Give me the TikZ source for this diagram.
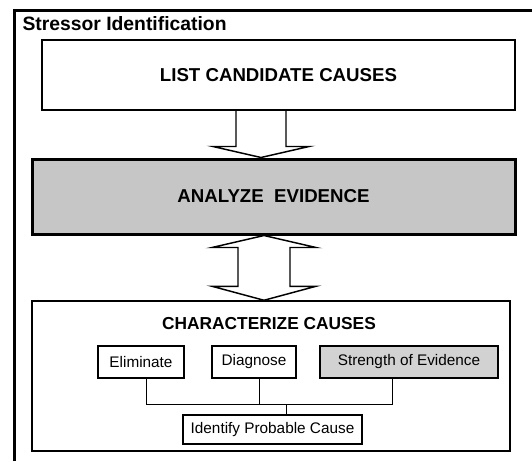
\documentclass[tikz,border=0pt]{standalone}
\usepackage{fontspec}
\setmainfont{Liberation Sans}
\usetikzlibrary{positioning,calc}

\tikzset{every picture/.style={line width=0.75pt}}
\tikzset{
  bigbox/.style={draw, line width=1.1, inner sep=0pt, font=\bfseries\fontsize{14}{16}\selectfont},
  smallbox/.style={draw, line width=1.1, inner sep=0pt, font=\fontsize{11.5}{14}\selectfont},
  blockarr/.style={line width=1.1, line join=miter},
}

\begin{document}
\begin{tikzpicture}[x=0.75pt,y=0.75pt,yscale=-1,xscale=1]
\path [use as bounding box] (0,0) rectangle (532,461);

%Outer frame
\draw [line width=2.25]  (14,461) -- (14,10) -- (532,10) ;

% Text Node
\node [anchor=base west, inner sep=0pt, font=\bfseries\fontsize{14.5}{16}\selectfont] (stressor) at (22,30) {Stressor Identification};

%Boxes
\node [bigbox, minimum width=354.75pt, minimum height=52.5pt] (list) at (278.5,75) {LIST CANDIDATE CAUSES};
\node [bigbox, line width=2.25, fill=gray!45, minimum width=362.25pt, minimum height=56.25pt] (analyze) at (273.5,196.5) {ANALYZE\ \ EVIDENCE};
\node [bigbox, minimum width=358.5pt, minimum height=112.5pt] (charact) at (271,376) {};
% Text Node
\node [anchor=base, inner sep=0pt, font=\bfseries\fontsize{13}{16}\selectfont] (chartitle) at (269,329) {CHARACTERIZE CAUSES};

\node [smallbox, minimum width=64.5pt, minimum height=24pt] (elim) at (141,362) {Eliminate};
\node [smallbox, minimum width=63pt, minimum height=24pt] (diag) at (254,362) {Diagnose};
\node [smallbox, line width=1.8, fill=gray!35, minimum width=133.5pt, minimum height=24pt] (strength) at (409,362) {Strength of Evidence};
\node [smallbox, minimum width=134.25pt, minimum height=21.75pt] (identify) at (272.5,429.5) {Identify Probable Cause};

%Block arrows
\coordinate (ax) at (261,0);
\coordinate (bx) at (264,0);
\draw [blockarr] ($(list.south -| ax)+(-25,0)$) -- ($(analyze.north -| ax)+(-25,-11)$) -- ++(-23,0) -- (analyze.north -| ax) -- ($(analyze.north -| ax)+(48,-11)$) -- ++(-23,0) -- ($(list.south -| ax)+(25,0)$) ;
\draw [blockarr] (analyze.south -| bx) -- ++(52,12) -- ++(-26,0) -- ($(charact.north -| bx)+(26,-14)$) -- ++(26,0) -- (charact.north -| bx) -- ++(-52,-14) -- ++(26,0) -- ($(analyze.south -| bx)+(-26,12)$) -- ++(-26,0) -- cycle ;

%Straight Lines
\coordinate (bus) at (0,404);
\coordinate (e1) at ($(elim.south)+(5,0)$);
\coordinate (d1) at ($(diag.south)+(5,0)$);
\coordinate (s1) at ($(strength.south)+(-17,0)$);
\coordinate (i1) at ($(identify.north)+(13.5,0)$);
\draw  (e1) -- (e1 |- bus) -- (s1 |- bus) -- (s1) ;
\draw  (d1) -- (d1 |- bus) ;
\draw  (i1) -- (i1 |- bus) ;

\end{tikzpicture}
\end{document}
